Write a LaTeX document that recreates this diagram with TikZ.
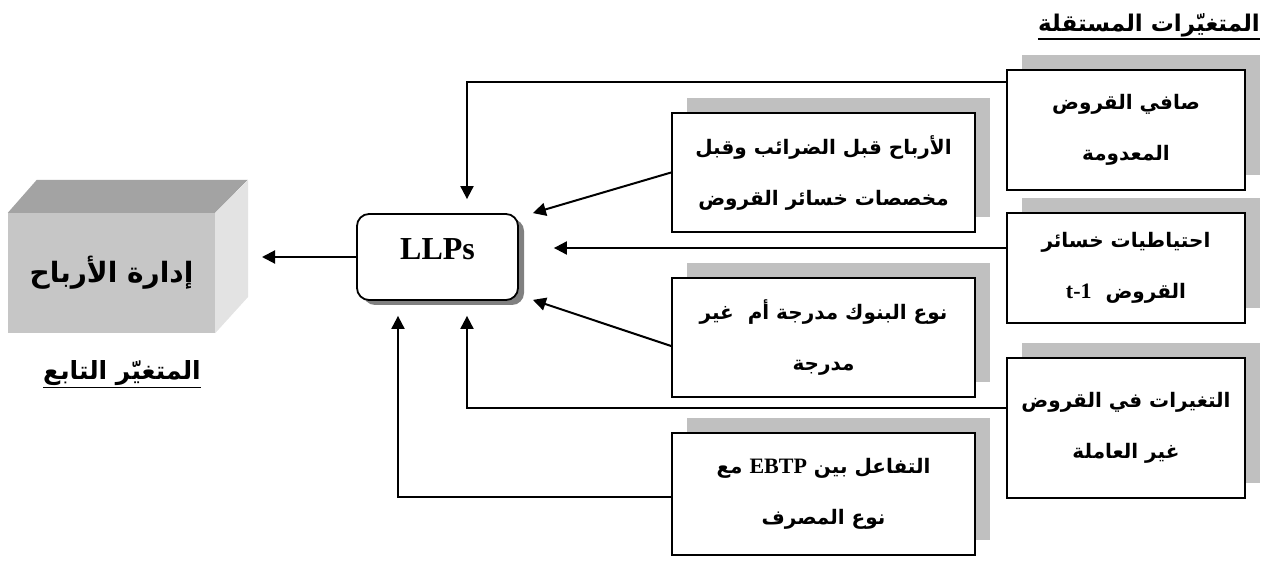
\documentclass[tikz,border=0pt]{standalone}
\usepackage{fontspec}
\newfontfamily\arabicfont[Script=Arabic]{DejaVu Sans}
\newfontfamily\latinfont{Liberation Serif}
\TeXXeTstate=1
\usetikzlibrary{shadows,arrows.meta}
\definecolor{boxshadow}{HTML}{C0C0C0}
\definecolor{cubefront}{HTML}{C6C6C6}
\definecolor{cubetop}{HTML}{A3A3A3}
\definecolor{cubeside}{HTML}{E3E3E3}
\begin{document}
\begin{tikzpicture}[
  x=1pt, y=-1pt,
  >={Triangle[length=13pt,width=13pt]},
  varbox/.style={rectangle, draw, line width=1.8pt, fill=white, align=center, inner sep=0pt,
    font=\arabicfont\bfseries\fontsize{20}{51}\selectfont,
    general shadow={fill=boxshadow, shadow xshift=15pt, shadow yshift=15pt}},
  link/.style={->, line width=2pt},
  heading/.style={font=\arabicfont\bfseries\fontsize{24}{28}\selectfont, inner xsep=0pt}
]
\useasboundingbox (0,0) rectangle (1264,561);

% dependent variable
\node[fill=cubefront, minimum width=207pt, minimum height=120pt, inner sep=0pt,
  font=\arabicfont\bfseries\fontsize{28}{34}\selectfont] (profit) at (111.5,273) {\beginR إدارة الأرباح\endR};
\fill[cubetop] (profit.north west) -- ++(29,-33) -- ++(211,0) -- (profit.north east) -- cycle;
\fill[cubeside] (profit.north east) -- ++(33,-33) -- ++(0,117) -- (profit.south east) -- cycle;
\coordinate (cubeend) at (262,257);
\node[heading, font=\arabicfont\bfseries\fontsize{25}{30}\selectfont] (deptitle) at (122,373) {\beginR المتغيّر التابع\endR};

\node[rectangle, draw, line width=1.8pt, fill=white, rounded corners=12pt,
  minimum width=161pt, minimum height=86pt, text height=22pt, text depth=16pt,
  font=\latinfont\bfseries\fontsize{32}{38}\selectfont,
  drop shadow={fill=gray, opacity=1, shadow xshift=6pt, shadow yshift=-5pt}] (llps) at (437.5,257) {LLPs};

% independent variables
\node[heading, font=\arabicfont\bfseries\fontsize{23}{28}\selectfont] (indeptitle) at (1149,25) {\beginR المتغيّرات المستقلة\endR};
\node[varbox, minimum width=238pt, minimum height=120pt] (netloans) at (1126,130)
  {\beginR صافي القروض\endR\\\beginR المعدومة\endR};
\node[varbox, minimum width=238pt, minimum height=110pt] (reserves) at (1126,268)
  {\beginR احتياطيات خسائر\endR\\\beginR القروض\ \ \beginL{\latinfont\fontsize{22}{51}\selectfont t-1}\endL\endR};
\node[varbox, minimum width=238pt, minimum height=140pt] (npl) at (1126,428)
  {\beginR التغيرات في القروض\endR\\\beginR غير العاملة\endR};
\node[varbox, minimum width=303pt, minimum height=119pt] (ebt) at (823.5,172.5)
  {\beginR الأرباح قبل الضرائب وقبل\endR\\\beginR مخصصات خسائر القروض\endR};
\node[varbox, minimum width=303pt, minimum height=119pt] (listed) at (823.5,337.5)
  {\beginR نوع البنوك مدرجة أم\ \ غير\endR\\\beginR مدرجة\endR};
\node[varbox, minimum width=303pt, minimum height=122pt] (inter) at (823.5,494)
  {\beginR التفاعل بين \beginL{\latinfont\fontsize{22}{51}\selectfont EBTP}\endL{} مع\endR\\\beginR نوع المصرف\endR};

% underlines of the two headings
\draw[line width=1.4pt] ([yshift=-8pt]deptitle.base west) -- ([yshift=-8pt]deptitle.base east);
\draw[line width=1.4pt] ([yshift=-8pt]indeptitle.base west) -- ([yshift=-8pt]indeptitle.base east);

\draw[link, shorten >=14pt] ([yshift=48pt]netloans.west) -| ([xshift=29.5pt]llps.north);
\draw[link] (ebt.west) -- ([xshift=14pt]llps.north east);
\draw[link] ([yshift=20pt]reserves.west) -- ([xshift=35pt,yshift=9pt]llps.east);
\draw[link] ([yshift=-8.5pt]listed.west) -- ([xshift=14pt,yshift=1pt]llps.south east);
\draw[link] ([yshift=20pt]npl.west) -| ([xshift=29.5pt,yshift=-15pt]llps.south);
\draw[link] ([yshift=-3pt]inter.west) -| ([xshift=-39.5pt,yshift=-15pt]llps.south);
\draw[link] (llps.west) -- (cubeend);
\end{tikzpicture}
\end{document}
